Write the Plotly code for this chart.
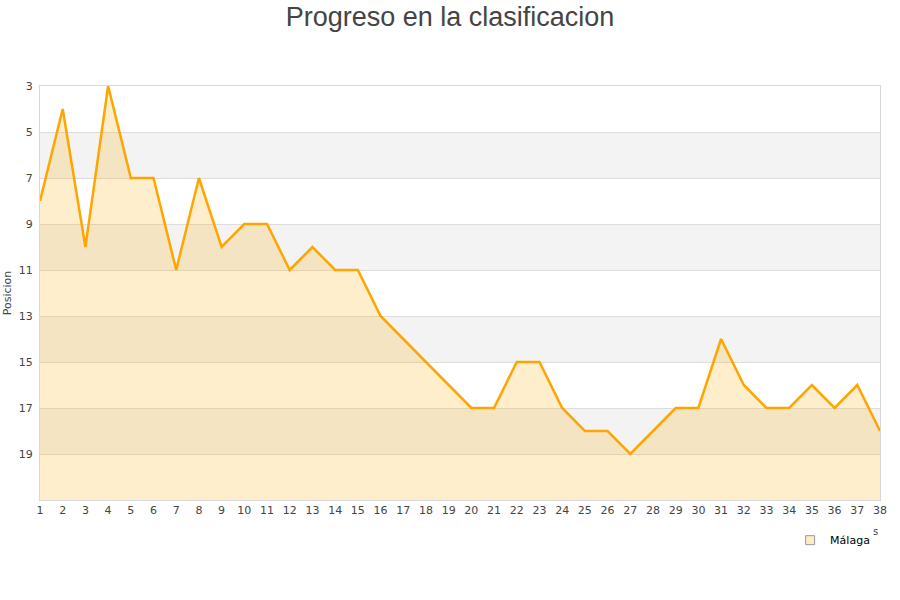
import plotly.graph_objects as go

jornadas = list(range(1, 39))
posicion = [8, 4, 10, 3, 7, 7, 11, 7, 10, 9, 9, 11, 10, 11, 11, 13, 14, 15, 16, 17,
            17, 15, 15, 17, 18, 18, 19, 18, 17, 17, 14, 16, 17, 17, 16, 17, 16, 18]
y_ticks = [3, 5, 7, 9, 11, 13, 15, 17, 19]
y_min, y_max = 3, 21
team = "Málaga"

fig = go.Figure()

# alternating bands
for i, lo in enumerate(range(y_min, y_max, 2)):
    if i % 2 == 1:
        fig.add_shape(type="rect", xref="paper", yref="y", x0=0, x1=1, y0=lo, y1=lo + 2,
                      fillcolor="#f3f3f3", line_width=0, layer="below")

fig.add_trace(go.Scatter(x=jornadas, y=[y_max] * len(jornadas), mode="lines",
                         line=dict(width=0), showlegend=False, hoverinfo="skip"))
fig.add_trace(go.Scatter(x=jornadas, y=posicion, mode="lines", fill="tonexty",
                         fillcolor="rgba(255,170,0,0.2)",
                         line=dict(color="#FFA500", width=2.5), showlegend=False, name=team))
fig.add_trace(go.Scatter(x=[None], y=[None], mode="markers", name=team,
                         marker=dict(symbol="square", size=9, color="#FEEBC8",
                                     line=dict(color="#999999", width=1))))

fig.update_layout(
    width=900, height=600,
    paper_bgcolor="white", plot_bgcolor="white",
    margin=dict(l=40, r=20, t=86, b=100, autoexpand=False),
    title=dict(text="Progreso en la clasificacion", x=0.5, xanchor="center",
               yref="container", y=0.988, yanchor="top", automargin=False,
               font=dict(family="Liberation Sans, Arial", size=27, color="#444444")),
    font=dict(family="DejaVu Sans", size=11, color="#444444"),
    legend=dict(x=0.893, y=-0.062, xanchor="left", yanchor="top", bgcolor="rgba(0,0,0,0)",
                itemwidth=30, font=dict(size=11, color="#000000")),
    annotations=[dict(text="s", xref="paper", yref="paper", x=1.0, y=-0.094, showarrow=False,
                      font=dict(size=10, color="#444444"))],
)
fig.update_xaxes(range=[1, 38], tickmode="array", tickvals=jornadas, showgrid=False,
                 showline=True, linecolor="#d9d9d9", mirror=True, ticks="", zeroline=False,
                 automargin=False, tickfont=dict(size=11, color="#444444"))
fig.update_yaxes(range=[y_max, y_min], tickmode="array", tickvals=y_ticks,
                 showgrid=True, gridcolor="#dddddd", showline=True, linecolor="#d9d9d9",
                 mirror=True, zeroline=False, ticks="", ticklabelstandoff=4, automargin=False,
                 title=dict(text="Posicion", font=dict(size=11, color="#444444"), standoff=4),
                 tickfont=dict(size=11, color="#444444"))

fig.write_html("out.html", config={"displayModeBar": False},
               post_script="document.body.style.margin='0';")
